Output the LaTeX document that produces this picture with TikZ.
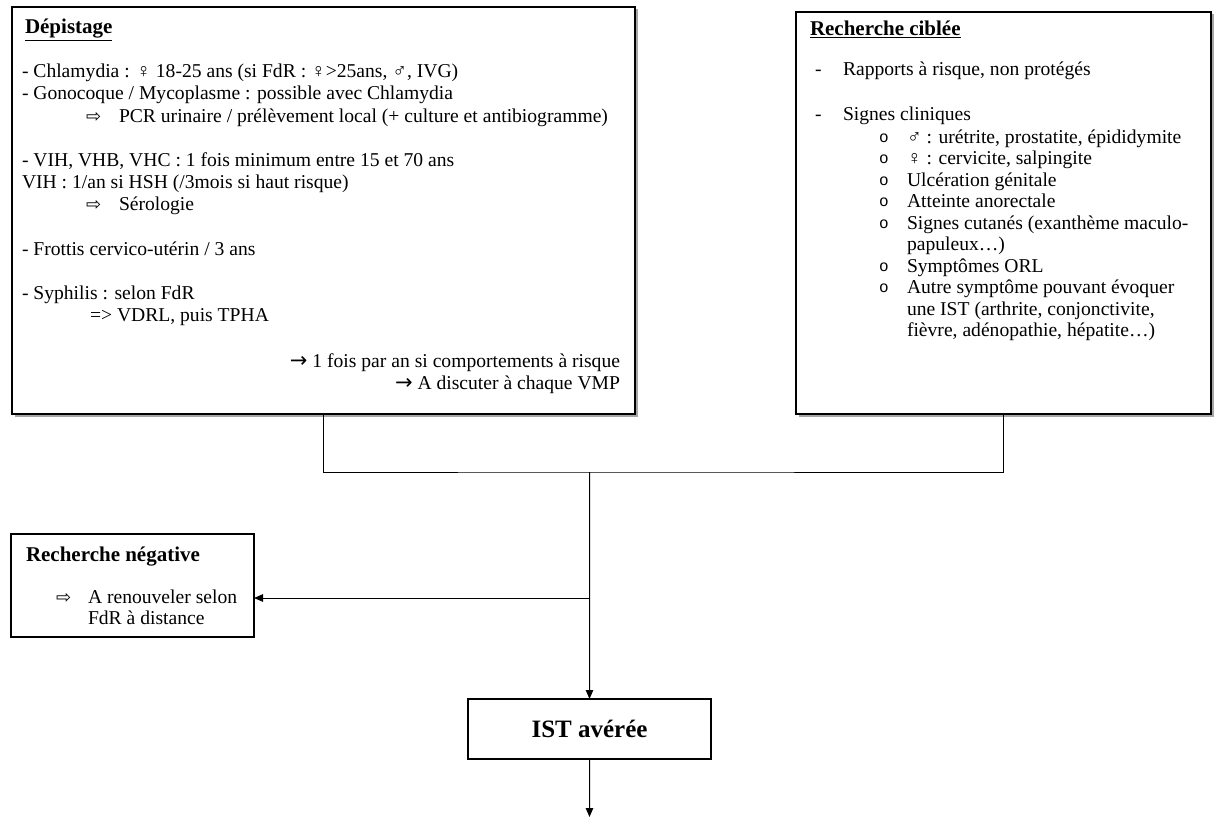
\documentclass[tikz,border=0pt]{standalone}
\usepackage{fontspec}
\setmainfont{Liberation Serif}
\setmonofont{Liberation Mono}
\newfontfamily\dvfont{DejaVu Sans}
\usetikzlibrary{arrows.meta,shadows}
\newcommand{\hdarrow}{{\dvfont\fontsize{18bp}{18bp}\selectfont ⇨}}
\newcommand{\rarr}{{\dvfont\fontsize{21bp}{21bp}\selectfont →}}
\newcommand{\bul}{{\ttfamily\fontsize{16bp}{16bp}\selectfont o}}
\begin{document}
\begin{tikzpicture}[x=1bp,y=-1bp,
  every node/.style={inner sep=0pt, outer sep=0pt},
  txt/.style={font=\fontsize{19.6bp}{22bp}\selectfont, anchor=base west},
  txtr/.style={txt, anchor=base east},
  head/.style={txt, font=\fontsize{21bp}{22bp}\selectfont\bfseries},
  frame/.style={draw, line width=1.4bp, anchor=north west, fill=white},
  shadowed/.style={drop shadow={shadow xshift=2.5bp, shadow yshift=-2.5bp, fill=black, opacity=0.35}},
  conn/.style={line width=1bp},
  arr/.style={conn, -{Triangle[length=9bp,width=7.5bp]}}
]
\useasboundingbox (0,0) rectangle (1214,817);
% boxes
\node[frame, shadowed, minimum width=623bp, minimum height=407bp] (dep) at (12,7) {};
\node[frame, shadowed, minimum width=415bp, minimum height=402bp] (rc) at (796,12) {};
\node[frame, minimum width=243bp, minimum height=103bp] (neg) at (11,534) {};
\node[frame, minimum width=243bp, minimum height=60bp] (ist) at (468,699) {};

% left box text
\node[head] (d0) at (25,34) {\underline{Dépistage}};
\node[txt] (d1) at (22,78) {- Chlamydia : ♀ 18-25 ans (si FdR : ♀>25ans, ♂, IVG)};
\node[txt] (d2) at (22,100) {- Gonocoque / Mycoplasme : possible avec Chlamydia};
\node[txt] (d3a) at (86,122) {\hdarrow};
\node[txt] (d3) at (119,122) {PCR urinaire / prélèvement local (+ culture et antibiogramme)};
\node[txt] (d4) at (22,166) {- VIH, VHB, VHC : 1 fois minimum entre 15 et 70 ans};
\node[txt] (d5) at (22,188) {VIH : 1/an si HSH (/3mois si haut risque)};
\node[txt] (d6a) at (86,210) {\hdarrow};
\node[txt] (d6) at (119,210) {Sérologie};
\node[txt] (d7) at (22,255) {- Frottis cervico-utérin / 3 ans};
\node[txt] (d8) at (22,299) {- Syphilis : selon FdR};
\node[txt] (d9) at (90,321) {=> VDRL, puis TPHA};
\node[txtr] (d10) at (620,367) {\rarr\ 1 fois par an si comportements à risque};
\node[txtr] (d11) at (620,389) {\rarr\ A discuter à chaque VMP};

% right box text
\node[head] (r0) at (810,36) {\underline{Recherche ciblée}};
\node[txt] (r1a) at (815,76) {-};
\node[txt] (r1) at (843,76) {Rapports à risque, non protégés};
\node[txt] (r2a) at (815,121) {-};
\node[txt] (r2) at (843,121) {Signes cliniques};
\node[txt] (b1) at (879,142) {\bul};
\node[txt] (s1) at (907,143) {♂ : urétrite, prostatite, épididymite};
\node[txt] (b2) at (879,163.5) {\bul};
\node[txt] (s2) at (907,164.5) {♀ : cervicite, salpingite};
\node[txt] (b3) at (879,185) {\bul};
\node[txt] (s3) at (907,186) {Ulcération génitale};
\node[txt] (b4) at (879,206.5) {\bul};
\node[txt] (s4) at (907,207.5) {Atteinte anorectale};
\node[txt] (b5) at (879,228) {\bul};
\node[txt] (s5) at (907,229) {Signes cutanés (exanthème maculo-};
\node[txt] (s5b) at (907,250.5) {papuleux…)};
\node[txt] (b6) at (879,271) {\bul};
\node[txt] (s6) at (907,272) {Symptômes ORL};
\node[txt] (b7) at (879,292.5) {\bul};
\node[txt] (s7) at (907,293.5) {Autre symptôme pouvant évoquer};
\node[txt] (s7b) at (907,315) {une IST (arthrite, conjonctivite,};
\node[txt] (s7c) at (907,336.5) {fièvre, adénopathie, hépatite…)};

% negative box text
\node[head] (n0) at (26,561) {Recherche négative};
\node[txt] (n1a) at (56,603) {\hdarrow};
\node[txt] (n1) at (88,603) {A renouveler selon};
\node[txt] (n2) at (88,624) {FdR à distance};

% IST box text
\node[font=\fontsize{25bp}{26bp}\selectfont\bfseries, anchor=base] (istt) at (ist.center |- 0,737) {IST avérée};

% connectors
\coordinate (j) at (589.5,472);
\coordinate (nb) at (589.5,598);
\coordinate (out) at (589.5,817);
\draw[conn] (dep.south) |- (j) -| (rc.south);
\draw[arr] (j) -- (ist.north);
\draw[arr] (nb) -- (nb -| neg.east);
\draw[arr] (ist.south) -- (out);
\end{tikzpicture}
\end{document}
